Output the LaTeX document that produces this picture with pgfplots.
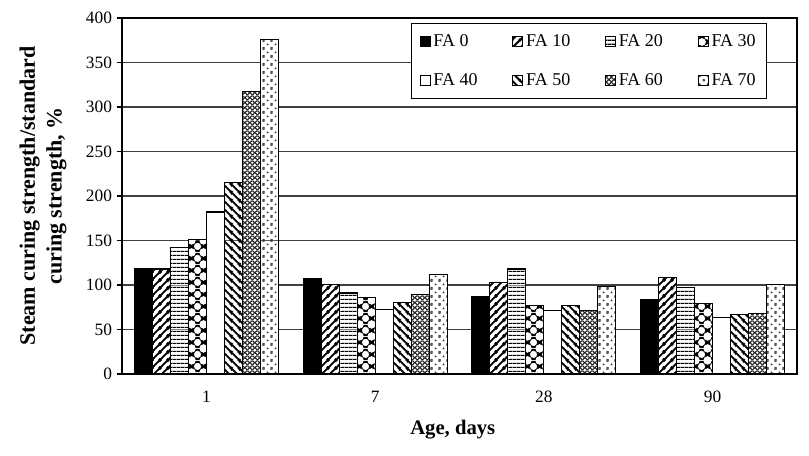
\documentclass[border=0pt]{standalone}
\usepackage{fontspec}
\setmainfont{Liberation Serif}
\usepackage{pgfplots}
\pgfplotsset{compat=1.18}
\usepackage{pgfplotstable}
\usetikzlibrary{patterns}

% Bar fills, each tile carries its own background and foreground colours
\pgfdeclarepatterninherentlycolored{bigdots}{\pgfqpoint{0pt}{0pt}}{\pgfqpoint{9pt}{9pt}}{\pgfqpoint{9pt}{9pt}}{
  \pgfsetfillcolor{black}
  \pgfpathrectangle{\pgfqpoint{0pt}{0pt}}{\pgfqpoint{9pt}{9pt}}\pgfusepath{fill}
  \pgfsetfillcolor{white}
  \pgfpathcircle{\pgfqpoint{4.5pt}{4.5pt}}{2.9pt}
  \pgfpathcircle{\pgfqpoint{0pt}{0pt}}{2.9pt}
  \pgfpathcircle{\pgfqpoint{9pt}{0pt}}{2.9pt}
  \pgfpathcircle{\pgfqpoint{0pt}{9pt}}{2.9pt}
  \pgfpathcircle{\pgfqpoint{9pt}{9pt}}{2.9pt}
  \pgfusepath{fill}
}
\pgfdeclarepatterninherentlycolored{finedots}{\pgfqpoint{0pt}{0pt}}{\pgfqpoint{3.6pt}{3.6pt}}{\pgfqpoint{3.6pt}{3.6pt}}{
  \pgfsetfillcolor{black!85}
  \pgfpathrectangle{\pgfqpoint{0pt}{0pt}}{\pgfqpoint{3.6pt}{3.6pt}}\pgfusepath{fill}
  \pgfsetfillcolor{white}
  \pgfpathcircle{\pgfqpoint{1.8pt}{1.8pt}}{1.05pt}
  \pgfpathcircle{\pgfqpoint{0pt}{0pt}}{1.05pt}
  \pgfpathcircle{\pgfqpoint{3.6pt}{0pt}}{1.05pt}
  \pgfpathcircle{\pgfqpoint{0pt}{3.6pt}}{1.05pt}
  \pgfpathcircle{\pgfqpoint{3.6pt}{3.6pt}}{1.05pt}
  \pgfusepath{fill}
}
\pgfdeclarepatterninherentlycolored{sparsedots}{\pgfqpoint{0pt}{0pt}}{\pgfqpoint{6pt}{6pt}}{\pgfqpoint{6pt}{6pt}}{
  \pgfsetfillcolor{white}
  \pgfpathrectangle{\pgfqpoint{0pt}{0pt}}{\pgfqpoint{6pt}{6pt}}\pgfusepath{fill}
  \pgfsetfillcolor{black!75}
  \pgfpathcircle{\pgfqpoint{3pt}{3pt}}{0.85pt}
  \pgfpathcircle{\pgfqpoint{0pt}{0pt}}{0.85pt}
  \pgfpathcircle{\pgfqpoint{6pt}{0pt}}{0.85pt}
  \pgfpathcircle{\pgfqpoint{0pt}{6pt}}{0.85pt}
  \pgfpathcircle{\pgfqpoint{6pt}{6pt}}{0.85pt}
  \pgfusepath{fill}
}
\pgfdeclarepatterninherentlycolored{thickne}{\pgfqpoint{0pt}{0pt}}{\pgfqpoint{6pt}{6pt}}{\pgfqpoint{6pt}{6pt}}{
  \pgfsetfillcolor{white}
  \pgfpathrectangle{\pgfqpoint{0pt}{0pt}}{\pgfqpoint{6pt}{6pt}}\pgfusepath{fill}
  \pgfsetstrokecolor{black}
  \pgfsetlinewidth{1.5pt}
  \pgfpathmoveto{\pgfqpoint{-1pt}{-1pt}}\pgfpathlineto{\pgfqpoint{7pt}{7pt}}
  \pgfpathmoveto{\pgfqpoint{-1pt}{5pt}}\pgfpathlineto{\pgfqpoint{1pt}{7pt}}
  \pgfpathmoveto{\pgfqpoint{5pt}{-1pt}}\pgfpathlineto{\pgfqpoint{7pt}{1pt}}
  \pgfusepath{stroke}
}
\pgfdeclarepatterninherentlycolored{thicknw}{\pgfqpoint{0pt}{0pt}}{\pgfqpoint{6pt}{6pt}}{\pgfqpoint{6pt}{6pt}}{
  \pgfsetfillcolor{white}
  \pgfpathrectangle{\pgfqpoint{0pt}{0pt}}{\pgfqpoint{6pt}{6pt}}\pgfusepath{fill}
  \pgfsetstrokecolor{black}
  \pgfsetlinewidth{1.5pt}
  \pgfpathmoveto{\pgfqpoint{-1pt}{7pt}}\pgfpathlineto{\pgfqpoint{7pt}{-1pt}}
  \pgfpathmoveto{\pgfqpoint{-1pt}{1pt}}\pgfpathlineto{\pgfqpoint{1pt}{-1pt}}
  \pgfpathmoveto{\pgfqpoint{5pt}{7pt}}\pgfpathlineto{\pgfqpoint{7pt}{5pt}}
  \pgfusepath{stroke}
}
\pgfdeclarepatterninherentlycolored{hlines}{\pgfqpoint{0pt}{0pt}}{\pgfqpoint{2.7pt}{2.7pt}}{\pgfqpoint{2.7pt}{2.7pt}}{
  \pgfsetfillcolor{white}
  \pgfpathrectangle{\pgfqpoint{0pt}{0pt}}{\pgfqpoint{2.7pt}{2.7pt}}\pgfusepath{fill}
  \pgfsetstrokecolor{black}
  \pgfsetlinewidth{1pt}
  \pgfpathmoveto{\pgfqpoint{0pt}{1.35pt}}\pgfpathlineto{\pgfqpoint{2.7pt}{1.35pt}}
  \pgfusepath{stroke}
}

% Steam curing strength relative to standard curing, per fly ash content
\pgfplotstableread{
age FA0 FA10 FA20 FA30 FA40 FA50 FA60 FA70
0   119 118  142  151  182  215  317  376
1   107 101  91   86   72   80   89   112
2   87  103  118  77   71   77   71   98
3   84  108  97   79   63   67   68   101
}\ratio

\begin{document}
\begin{tikzpicture}
\path[use as bounding box] (-91.5pt,-61.5pt) rectangle (515.25pt,280.5pt);
\begin{axis}[
  at={(0,0)}, anchor=south west,
  scale only axis, width=506.25pt, height=267pt,
  ybar=0pt, bar width=13.5pt,
  xmin=-0.5, xmax=3.5, ymin=0, ymax=400,
  xtick={0,1,2,3}, xticklabels={1,7,28,90},
  ytick distance=50,
  xtick style={draw=none},
  ytick pos=left, tick align=outside, major tick length=4pt,
  ytick style={line width=0.9pt, black},
  ymajorgrids, grid style={black!75, line width=0.9pt},
  axis line style={line width=1pt},
  tick label style={font=\fontsize{13}{15}\selectfont},
  xticklabel style={yshift=-5pt},
  /pgf/number format/assume math mode=true,
  xlabel={Age, days},
  xlabel style={at={(axis description cs:0.49,-0.155)}, anchor=center,
    font=\bfseries\fontsize{15.5}{18}\selectfont},
  ylabel={Steam curing strength/standard\\curing strength, \%},
  ylabel style={at={(axis description cs:-0.117,0.5)}, anchor=center, align=center,
    font=\bfseries\fontsize{16.5}{20}\selectfont},
  legend columns=4,
  legend cell align=left,
  legend image code/.code={\draw[#1, line width=0.9pt] (0pt,-3.7pt) rectangle (7.5pt,3.7pt);},
  legend style={at={(rel axis cs:0.9556,0.986)}, anchor=north east,
    draw=black, line width=1pt, font=\fontsize{13.5}{15}\selectfont,
    inner xsep=6pt, inner ysep=6pt, row sep=15pt,
    /tikz/every even column/.append style={column sep=24pt}},
  every axis plot/.append style={draw=black, line width=0.8pt},
]
\addplot[fill=black] table[x=age, y=FA0] {\ratio};
\addplot[pattern=thickne] table[x=age, y=FA10] {\ratio};
\addplot[pattern=hlines] table[x=age, y=FA20] {\ratio};
\addplot[pattern=bigdots] table[x=age, y=FA30] {\ratio};
\addplot[fill=white] table[x=age, y=FA40] {\ratio};
\addplot[pattern=thicknw] table[x=age, y=FA50] {\ratio};
\addplot[pattern=finedots] table[x=age, y=FA60] {\ratio};
\addplot[pattern=sparsedots] table[x=age, y=FA70] {\ratio};
\legend{FA 0, FA 10, FA 20, FA 30, FA 40, FA 50, FA 60, FA 70}
\end{axis}
\end{tikzpicture}
\end{document}
